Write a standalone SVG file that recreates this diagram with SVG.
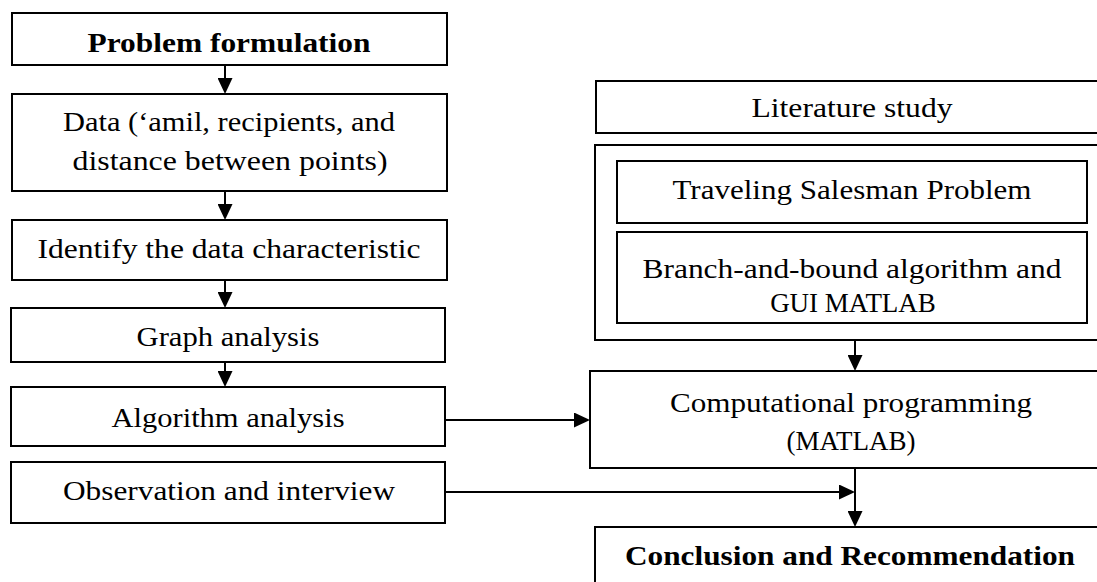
<svg xmlns="http://www.w3.org/2000/svg" width="1097" height="582" viewBox="0 0 1097 582">
<style>
.box{fill:#fff;stroke:#000;stroke-width:2}
.t{font-family:"Liberation Serif","Times New Roman",serif;font-size:27px;fill:#000;text-anchor:middle}
.b{font-weight:bold}
.c{stroke:#000;stroke-width:2;fill:none}
</style>
<defs>
<marker id="ah" markerUnits="userSpaceOnUse" markerWidth="16" markerHeight="15" refX="13" refY="7.5" orient="auto">
<path d="M0,0 L16,7.5 L0,15 z" fill="#000"/>
</marker>
</defs>
<rect width="1097" height="582" fill="#fff"/>
<g id="connectors">
<line class="c" x1="225" y1="65" x2="225" y2="91" marker-end="url(#ah)"/>
<line class="c" x1="225" y1="191" x2="225" y2="217" marker-end="url(#ah)"/>
<line class="c" x1="225" y1="280" x2="225" y2="305" marker-end="url(#ah)"/>
<line class="c" x1="225" y1="362" x2="225" y2="384" marker-end="url(#ah)"/>
<line class="c" x1="446" y1="420" x2="587" y2="420" marker-end="url(#ah)"/>
<line class="c" x1="446" y1="492" x2="852" y2="492" marker-end="url(#ah)"/>
<line class="c" x1="855" y1="340" x2="855" y2="368" marker-end="url(#ah)"/>
<line class="c" x1="855" y1="468" x2="855" y2="524" marker-end="url(#ah)"/>
</g>
<g id="n-problem">
<rect class="box" x="12" y="13" width="435" height="52"/>
<text class="t b" x="229" y="52" textLength="283" lengthAdjust="spacingAndGlyphs">Problem formulation</text>
</g>
<g id="n-data">
<rect class="box" x="12" y="94" width="435" height="97"/>
<text class="t" x="229" y="131" textLength="332" lengthAdjust="spacingAndGlyphs">Data (‘amil, recipients, and</text>
<text class="t" x="230" y="170" textLength="315" lengthAdjust="spacingAndGlyphs">distance between points)</text>
</g>
<g id="n-identify">
<rect class="box" x="12" y="220" width="435" height="60"/>
<text class="t" x="229" y="258" textLength="383" lengthAdjust="spacingAndGlyphs">Identify the data characteristic</text>
</g>
<g id="n-graph">
<rect class="box" x="11" y="308" width="434" height="54"/>
<text class="t" x="228" y="346" textLength="183" lengthAdjust="spacingAndGlyphs">Graph analysis</text>
</g>
<g id="n-algorithm">
<rect class="box" x="11" y="387" width="434" height="59"/>
<text class="t" x="228" y="427" textLength="233" lengthAdjust="spacingAndGlyphs">Algorithm analysis</text>
</g>
<g id="n-observation">
<rect class="box" x="11" y="462" width="434" height="61"/>
<text class="t" x="229" y="500" textLength="332" lengthAdjust="spacingAndGlyphs">Observation and interview</text>
</g>
<g id="n-literature">
<rect class="box" x="596" y="81" width="514" height="52"/>
<text class="t" x="852" y="117" textLength="201" lengthAdjust="spacingAndGlyphs">Literature study</text>
</g>
<g id="n-litgroup">
<rect class="box" x="595" y="145" width="515" height="195"/>
</g>
<g id="n-tsp">
<rect class="box" x="617" y="161" width="470" height="62"/>
<text class="t" x="852" y="199" textLength="359" lengthAdjust="spacingAndGlyphs">Traveling Salesman Problem</text>
</g>
<g id="n-branch">
<rect class="box" x="617" y="232" width="470" height="91"/>
<text class="t" x="852" y="278" textLength="419" lengthAdjust="spacingAndGlyphs">Branch-and-bound algorithm and</text>
<text class="t" x="853" y="312">GUI MATLAB</text>
</g>
<g id="n-computational">
<rect class="box" x="590" y="371" width="522" height="97"/>
<text class="t" x="851" y="412" textLength="362" lengthAdjust="spacingAndGlyphs">Computational programming</text>
<text class="t" x="851" y="450">(MATLAB)</text>
</g>
<g id="n-conclusion">
<rect class="box" x="595" y="527" width="515" height="70"/>
<text class="t b" x="850" y="565" textLength="450" lengthAdjust="spacingAndGlyphs">Conclusion and Recommendation</text>
</g>
</svg>
